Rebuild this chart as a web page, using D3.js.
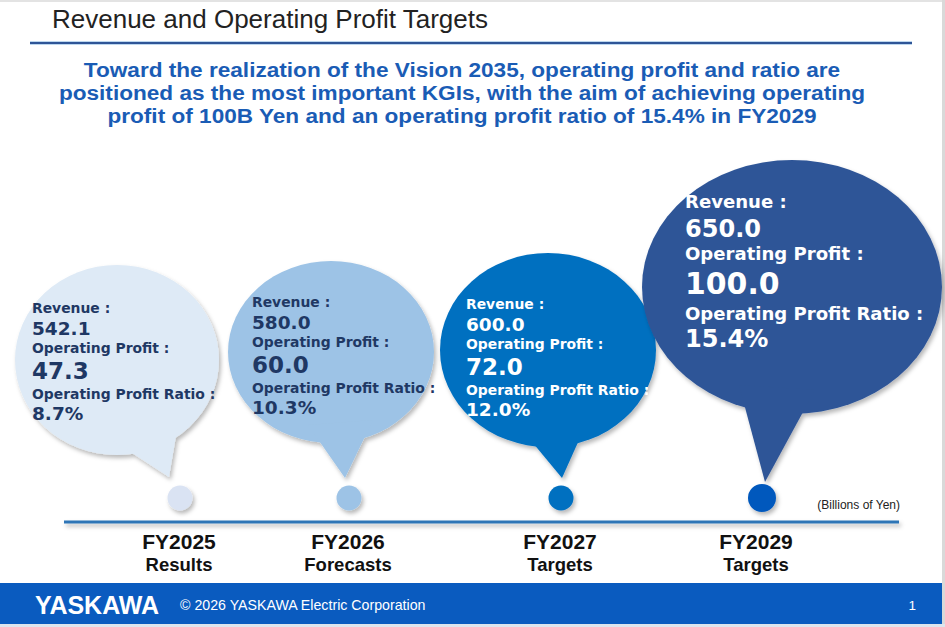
<!DOCTYPE html>
<html>
<head>
<meta charset="utf-8">
<script src="https://cdn.jsdelivr.net/npm/d3@7"></script>
<style>
  html, body { margin: 0; padding: 0; background: #fff; }
  svg { display: block; }
</style>
</head>
<body>
<svg id="chart"></svg>
<script>
// chart values
var categories = ["FY2025", "FY2026", "FY2027", "FY2029"]
var stages = ["Results", "Forecasts", "Targets", "Targets"]
var revenue = [542.1, 580.0, 600.0, 650.0]
var opProfit = [47.3, 60.0, 72.0, 100.0]
var opRatio = [8.7, 10.3, 12.0, 15.4]

var title = "Revenue and Operating Profit Targets"
var subtitle = [
    "Toward the realization of the Vision 2035, operating profit and ratio are",
    "positioned as the most important KGIs, with the aim of achieving operating",
    "profit of 100B Yen and an operating profit ratio of 15.4% in FY2029"
]
var unitLabel = "(Billions of Yen)"

// look of each bubble
var bubbleFill = ["#deeaf6", "#9dc3e6", "#0070c0", "#2f5597"]
var dotFill = ["#dae3f3", "#9dc3e6", "#0070c0", "#0058bd"]
var inkColor = ["#1f3864", "#1f3864", "#ffffff", "#ffffff"]

var width = 945, height = 627

var svg = d3.select("#chart").attr("width", width).attr("height", height)

// one shadow filter for the whole slide
var defs = svg.append("defs")
defs.append("filter").attr("id", "shadow")
    .attr("filterUnits", "userSpaceOnUse")
    .attr("x", 0).attr("y", 0).attr("width", width).attr("height", height)
    .append("feDropShadow")
    .attr("dx", 2).attr("dy", 3).attr("stdDeviation", 2.2)
    .attr("flood-color", "#000").attr("flood-opacity", 0.28)

// timeline position of each year
var x = d3.scaleOrdinal().domain(categories).range([179, 348, 560, 756])
var baseY = 522, dotY = 498

// frame
svg.append("rect").attr("width", width).attr("height", height).attr("fill", "#fff")
svg.append("rect").attr("width", width).attr("height", 2).attr("fill", "#e3e3e3")
svg.append("rect").attr("x", 942).attr("width", 3).attr("height", height).attr("fill", "#d9d9d9")

// header
svg.append("text").attr("x", 52).attr("y", 28)
    .attr("font-family", "Liberation Sans, Arial, sans-serif")
    .attr("font-size", 26).attr("fill", "#222")
    .text(title)
svg.append("line").attr("x1", 30).attr("x2", 912).attr("y1", 43).attr("y2", 43)
    .attr("stroke", "#bdd7ee").attr("stroke-width", 4)
svg.append("line").attr("x1", 30).attr("x2", 912).attr("y1", 43).attr("y2", 43)
    .attr("stroke", "#2f5597").attr("stroke-width", 2)

// subtitle: the original face is wider, so stretch a bit
svg.append("g").selectAll("text")
    .data(subtitle).enter().append("text")
    .attr("x", 462).attr("y", (d, i) => 77 + i * 23)
    .attr("text-anchor", "middle")
    .attr("font-family", "Liberation Sans, Arial, sans-serif")
    .attr("font-weight", "bold").attr("font-size", 20)
    .attr("fill", "#1a5cb5")
    .text(d => d)
    .each(function() {
        var w = this.getComputedTextLength()
        d3.select(this).attr("textLength", w * 1.13).attr("lengthAdjust", "spacingAndGlyphs")
    })

// bubble shapes, relative to the year position on the timeline
var shapes = [
    {dx: -62, cy: 360, rx: 102, ry: 95, tail: [[-67, 440], [-2, 430], [-10, 477]], tx: -147, ty: 313, s: 1},
    {dx: -17, cy: 352, rx: 103, ry: 91, tail: [[-40, 425], [25, 420], [-3, 478]], tx: -96, ty: 307, s: 1},
    {dx: -12, cy: 350, rx: 108, ry: 97, tail: [[-42, 425], [28, 420], [2, 478]], tx: -94, ty: 309, s: 1},
    {dx: 36, cy: 287, rx: 150, ry: 127, tail: [[-17, 385], [59, 390], [9, 482]], tx: -71, ty: 208, s: 1.3}
]

var lineStep = [0, 22, 40, 66, 86, 107]
var lineSize = [13.9, 18.5, 13.9, 23, 13.9, 18.5]

var data = categories.map((c, i) => ({
    cat: c, i: i,
    lines: [
        "Revenue :", revenue[i].toFixed(1),
        "Operating Profit :", opProfit[i].toFixed(1),
        "Operating Profit Ratio :", opRatio[i].toFixed(1) + "%"
    ]
}))

var bubbles = svg.append("g").selectAll("g.bubble")
    .data(data).enter().append("g")
    .attr("class", "bubble")

bubbles.append("g").attr("filter", "url(#shadow)")
    .each(function(d) {
        var g = d3.select(this), sh = shapes[d.i], x0 = x(d.cat)
        g.append("ellipse")
            .attr("cx", x0 + sh.dx).attr("cy", sh.cy)
            .attr("rx", sh.rx).attr("ry", sh.ry)
            .attr("fill", bubbleFill[d.i])
        g.append("path")
            .attr("d", d3.line()(sh.tail.map(p => [x0 + p[0], p[1]])) + "Z")
            .attr("fill", bubbleFill[d.i])
    })

bubbles.append("g").each(function(d) {
    var g = d3.select(this), sh = shapes[d.i], x0 = x(d.cat)
    g.selectAll("text").data(d.lines).enter().append("text")
        .attr("x", x0 + sh.tx)
        .attr("y", (t, j) => sh.ty + lineStep[j] * sh.s)
        .attr("font-family", "DejaVu Sans, Verdana, sans-serif")
        .attr("font-weight", "bold")
        .attr("font-size", (t, j) => lineSize[j] * sh.s)
        .attr("fill", inkColor[d.i])
        .text(t => t)
})

// dots on the timeline
svg.append("g").selectAll("circle")
    .data(data).enter().append("circle")
    .attr("cx", d => x(d.cat) + (d.i == 3 ? 6 : 1))
    .attr("cy", dotY)
    .attr("r", d => d.i == 3 ? 14 : 12.5)
    .attr("fill", d => dotFill[d.i])
    .attr("filter", "url(#shadow)")

svg.append("text").attr("x", 900).attr("y", 509)
    .attr("text-anchor", "end")
    .attr("font-family", "Liberation Sans, Arial, sans-serif")
    .attr("font-size", 12).attr("fill", "#222")
    .text(unitLabel)

// timeline
svg.append("rect").attr("x", 64).attr("width", 835).attr("y", baseY - 1.5).attr("height", 3)
    .attr("fill", "#2e75b6")
    .attr("filter", "url(#shadow)")

var labels = svg.append("g").selectAll("g")
    .data(data).enter().append("g")
    .attr("transform", d => "translate(" + x(d.cat) + ",0)")
    .attr("font-family", "Liberation Sans, Arial, sans-serif")
    .attr("font-weight", "bold").attr("fill", "#111")
    .attr("text-anchor", "middle")
labels.append("text").attr("y", 549).attr("font-size", 21).text(d => d.cat)
labels.append("text").attr("y", 571).attr("font-size", 18.5).text(d => stages[d.i])

// footer
svg.append("rect").attr("y", 583).attr("width", 942).attr("height", 41).attr("fill", "#0a5bbf")
svg.append("rect").attr("y", 624).attr("width", width).attr("height", 3).attr("fill", "#dde5ee")
svg.append("text").attr("x", 35).attr("y", 614)
    .attr("font-family", "Liberation Sans, Arial, sans-serif")
    .attr("font-weight", "bold").attr("font-size", 25)
    .attr("fill", "#fff").text("YASKAWA")
svg.append("text").attr("x", 180).attr("y", 610)
    .attr("font-family", "Liberation Sans, Arial, sans-serif")
    .attr("font-size", 14.2).attr("fill", "#fff")
    .text("© 2026 YASKAWA  Electric Corporation")
svg.append("text").attr("x", 916).attr("y", 610)
    .attr("text-anchor", "end")
    .attr("font-family", "Liberation Sans, Arial, sans-serif")
    .attr("font-size", 13.5).attr("fill", "#fff")
    .text("1")
</script>
</body>
</html>
